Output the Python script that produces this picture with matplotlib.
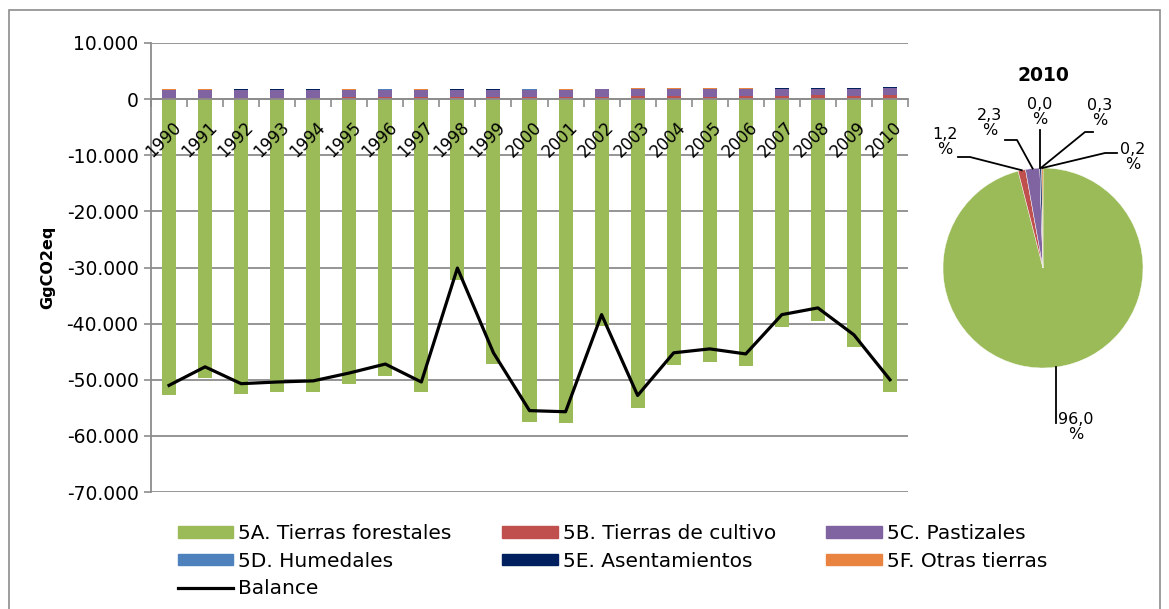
import numpy as np
import matplotlib

matplotlib.use("Agg")
import matplotlib.pyplot as plt  # noqa: E402
import matplotlib.ticker as mticker  # noqa: E402
import matplotlib.transforms as mtransforms  # noqa: E402
from matplotlib.patches import Patch, Rectangle  # noqa: E402
from matplotlib.lines import Line2D  # noqa: E402

# ---- data (GgCO2eq) ----
years = [str(y) for y in range(1990, 2011)]
forest = [-52800, -49600, -52500, -52100, -52100, -50700, -49300, -52100, -32200, -47200,
          -57500, -57700, -40400, -55000, -47300, -46800, -47500, -40600, -39500, -44100, -52100]
cropland = [200, 200, 250, 250, 250, 300, 350, 300, 350, 350,
            400, 350, 400, 500, 500, 450, 500, 550, 650, 600, 650]
grassland = [1450, 1450, 1350, 1350, 1350, 1300, 1350, 1300, 1300, 1300,
             1300, 1300, 1350, 1250, 1250, 1300, 1250, 1250, 1200, 1200, 1250]
wetlands = [20] * 21
settlements = [20, 30, 100, 100, 100, 80, 50, 80, 120, 50,
               30, 20, 30, 120, 120, 30, 120, 120, 150, 120, 160]
other_land = [100, 100, 50, 50, 50, 50, 100, 50, 50, 50,
              100, 100, 80, 50, 50, 100, 50, 50, 50, 50, 110]
balance = [-51000, -47700, -50700, -50400, -50200, -48800, -47200, -50400, -30100, -45200,
           -55500, -55700, -38400, -52800, -45200, -44500, -45400, -38400, -37200, -42000, -50000]

pie_year = "2010"
pie_share = [96.0, 1.2, 2.3, 0.0, 0.3, 0.2]

labels = ["5A. Tierras forestales", "5B. Tierras de cultivo", "5C. Pastizales",
          "5D. Humedales", "5E. Asentamientos", "5F. Otras tierras"]
colors = ["#9BBB59", "#C0504D", "#8064A2", "#4F81BD", "#002060", "#E8843F"]

W, H = 1169, 609
plt.rcParams.update({"font.family": "DejaVu Sans", "font.size": 13.5})
fig = plt.figure(figsize=(W / 100, H / 100), dpi=100)

# outer chart border
fig.add_artist(Rectangle((9 / W, -0.05), (1160 - 9) / W, 1.05 - 10 / H,
                         transform=fig.transFigure, fill=False, edgecolor="#8c8c8c", lw=1.2))

grid_c = "#8c8c8c"
ax = fig.add_axes([151 / W, 1 - 492 / H, (908 - 151) / W, (492 - 43) / H])
x = np.arange(len(years))
bw = 0.39
ax.bar(x, forest, bw, color=colors[0], zorder=2)
bottom = np.zeros(len(years))
for vals, col in zip([cropland, grassland, wetlands, settlements, other_land], colors[1:]):
    ax.bar(x, vals, bw, bottom=bottom, color=col, zorder=2)
    bottom += np.array(vals)
ax.plot(x, balance, color="black", lw=2.3, zorder=3)

ax.set_xlim(-0.5, len(years) - 0.5)
ax.set_ylim(-70000, 10000)
ax.yaxis.set_major_locator(mticker.MultipleLocator(10000))
ax.yaxis.set_major_formatter(mticker.FuncFormatter(lambda v, p: f"{v:,.0f}".replace(",", ".")))
ax.yaxis.grid(True, color=grid_c, lw=1.3, zorder=0)
ax.set_axisbelow(True)
for s in ("top", "right"):
    ax.spines[s].set_visible(False)
ax.spines["left"].set_color(grid_c)
ax.spines["left"].set_linewidth(1.3)
ax.spines["bottom"].set_position(("data", 0))
ax.spines["bottom"].set_color(grid_c)
ax.spines["bottom"].set_linewidth(1.3)
ax.tick_params(axis="y", colors=grid_c, labelcolor="black", length=5, width=1.2, pad=4)
ax.set_xticks([])
ax.set_xticks(np.arange(len(years) + 1) - 0.5, minor=True)
ax.tick_params(axis="x", which="minor", direction="out", length=6, width=1.2, colors=grid_c)
ax.set_ylabel("GgCO2eq", fontsize=11.5, fontweight="bold", labelpad=8)

# year labels drawn as text so they sit on top of the bars
off = mtransforms.ScaledTranslation(3 / 100, -19 / 100, fig.dpi_scale_trans)
for i, yr in enumerate(years):
    ax.text(i, 0, yr, rotation=45, ha="right", va="top", rotation_mode="anchor",
            fontsize=12, transform=ax.transData + off, zorder=5)

# legend (column-major order to match the three-column layout)
h = [Patch(color=c) for c in colors]
bal_h = Line2D([], [], color="black", lw=2.3)
order_h = [h[0], h[3], bal_h, h[1], h[4], h[2], h[5]]
order_l = [labels[0], labels[3], "Balance", labels[1], labels[4], labels[2], labels[5]]
fig.legend(order_h, order_l, ncol=3, loc="upper left", bbox_to_anchor=(170 / W, 1 - 516 / H),
           frameon=False, borderaxespad=0, handlelength=2.75, handleheight=0.5,
           handletextpad=0.25, labelspacing=0.42, columnspacing=2.5, fontsize=14.5)

# pie of the last year
pax = fig.add_axes([943 / W, 1 - 368 / H, 200 / W, 200 / H])
wedges, _ = pax.pie(pie_share, colors=colors, startangle=90, counterclock=False, radius=1,
                    wedgeprops=dict(edgecolor="white", linewidth=0.3))
pax.set_xlim(-1, 1)
pax.set_ylim(-1, 1)
pax.set_aspect("equal")
pax.text(0, 1.93, pie_year, ha="center", va="center", fontsize=13.5, fontweight="bold")

# leader-line layout per slice: elbow, end of line, label centre
label_layout = [
    ((None, -1.55), (None, -1.55), (0.33, -1.59)),
    ((-0.73, 1.11), (-0.85, 1.11), (-0.98, 1.26)),
    ((-0.26, 1.28), (-0.38, 1.28), (-0.53, 1.45)),
    ((None, 1.38), (None, 1.38), (-0.03, 1.56)),
    ((0.42, 1.36), (0.50, 1.36), (0.57, 1.55)),
    ((0.62, 1.15), (0.74, 1.15), (0.90, 1.11)),
]
for w, share, (elb, end, tp) in zip(wedges, pie_share, label_layout):
    ang = np.deg2rad((w.theta1 + w.theta2) / 2)
    sx, sy = np.cos(ang), np.sin(ang)
    ex = sx if elb[0] is None else elb[0]
    nx = sx if end[0] is None else end[0]
    pax.plot([sx, ex, nx], [sy, elb[1], end[1]], color="black", lw=1.3, clip_on=False)
    pax.text(tp[0], tp[1], f"{share:.1f}".replace(".", ",") + "\n%", ha="center", va="center",
             fontsize=11.5, linespacing=1.05, clip_on=False)

fig.savefig("out.png", dpi=100)
